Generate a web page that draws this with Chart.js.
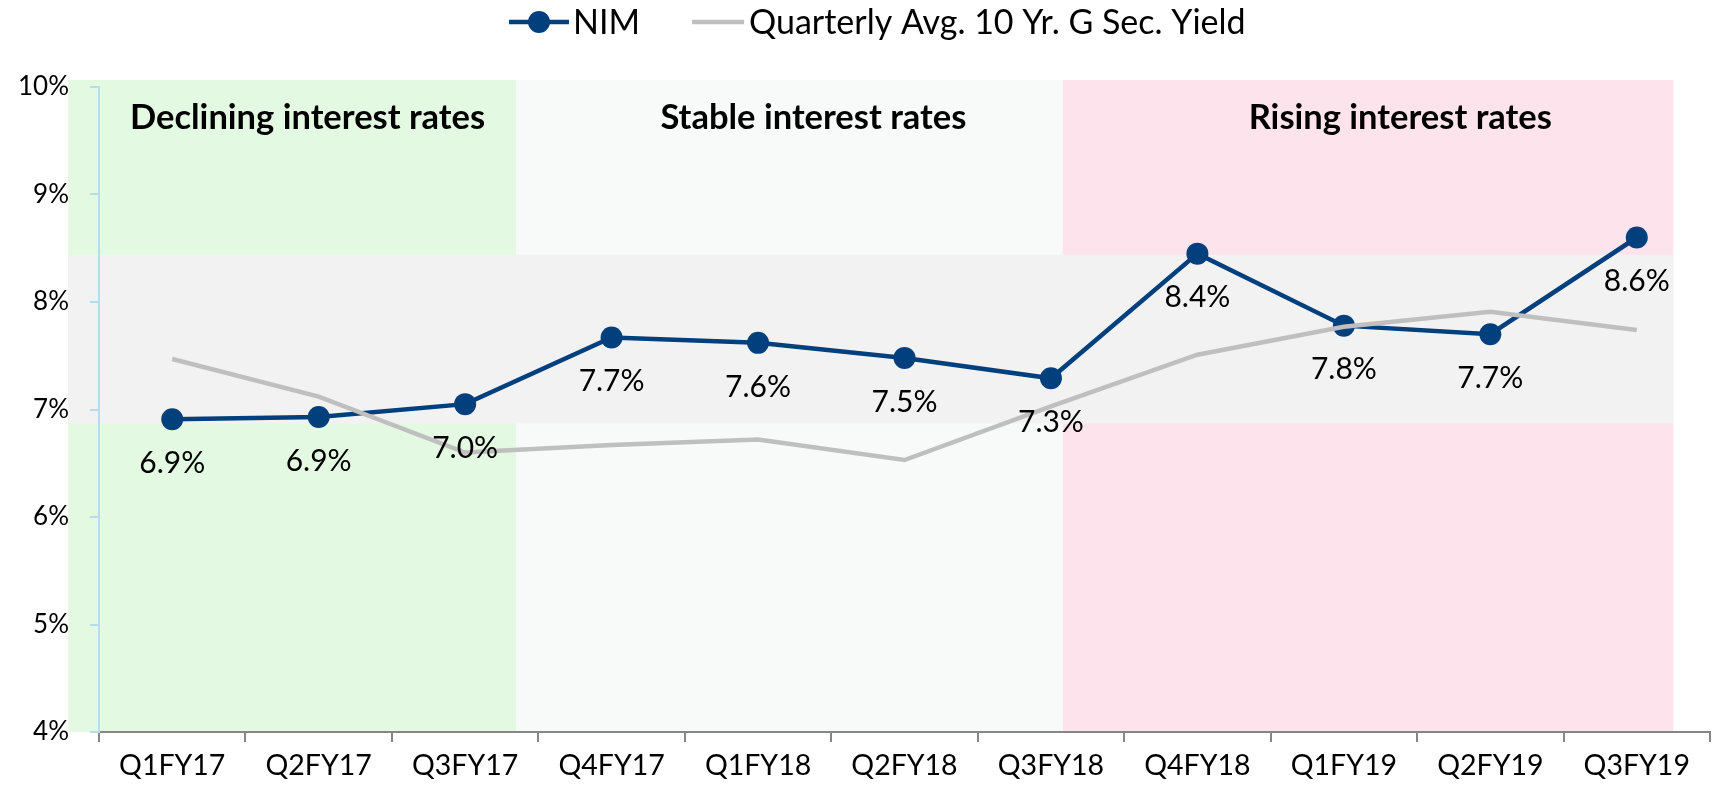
<!DOCTYPE html>
<html><head><meta charset="utf-8">
<script src="https://cdn.jsdelivr.net/npm/chart.js@4.4.1/dist/chart.umd.min.js"></script>
<style>html,body{margin:0;padding:0;background:#fff;}#wrap{width:1721px;height:789px;}</style>
</head><body><div id="wrap"><canvas id="c" width="1721" height="789"></canvas></div>
<script>
const categories = ['Q1FY17','Q2FY17','Q3FY17','Q4FY17','Q1FY18','Q2FY18','Q3FY18','Q4FY18','Q1FY19','Q2FY19','Q3FY19'];
const nimValues = [6.91,6.93,7.05,7.67,7.62,7.48,7.29,8.45,7.78,7.70,8.60];
const nimLabels = ['6.9%','6.9%','7.0%','7.7%','7.6%','7.5%','7.3%','8.4%','7.8%','7.7%','8.6%'];
const gsecValues = [7.47,7.12,6.60,6.67,6.72,6.53,7.03,7.51,7.77,7.91,7.74];
const yTicks = [4,5,6,7,8,9,10];
const seriesNames = ['NIM','Quarterly Avg. 10 Yr. G Sec. Yield'];
const phaseNames = ['Declining interest rates','Stable interest rates','Rising interest rates'];
// phase spans in category-index units (start, end) and title centre
const phaseSpans = [[-0.71,2.35],[2.35,6.08],[6.08,10.25]];
const phaseTitleAt = [0.924,4.378,8.385];
const rangeBand = [6.87,8.44];

const FONT = 'Lato, "Open Sans", sans-serif';
const NIM_COLOR = '#013f7d';
const GSEC_COLOR = '#bfbfbf';
const phaseColors = ['#e3f9e1','#f8f9f9','#fde4ec'];

function idxPx(xs, i){
  const p0 = xs.getPixelForValue(0), p1 = xs.getPixelForValue(1);
  return p0 + i*(p1-p0);
}

const bgPlugin = {
  id:'bg',
  beforeDraw(chart){
    const ctx = chart.ctx, xs = chart.scales.x, ys = chart.scales.y;
    const top = ys.getPixelForValue(10) - 7, bottom = ys.getPixelForValue(4);
    ctx.save();
    phaseSpans.forEach((s,k)=>{
      const a = idxPx(xs,s[0]), b = idxPx(xs,s[1]);
      ctx.fillStyle = phaseColors[k];
      ctx.fillRect(a, top, b-a, bottom-top);
    });
    const a = idxPx(xs,phaseSpans[0][0]), b = idxPx(xs,phaseSpans[2][1]);
    const y1 = ys.getPixelForValue(rangeBand[1]), y0 = ys.getPixelForValue(rangeBand[0]);
    ctx.fillStyle = '#f2f2f2';
    ctx.fillRect(a, y1, b-a, y0-y1);
    ctx.fillStyle = '#000';
    ctx.font = 'bold 34.5px ' + FONT;
    ctx.textAlign = 'center'; ctx.textBaseline = 'middle';
    phaseNames.forEach((t,k)=>{
      ctx.fillText(t, idxPx(xs,phaseTitleAt[k]), ys.getPixelForValue(9.715));
    });
    ctx.restore();
  },
  afterDatasetsDraw(chart){
    const ctx = chart.ctx;
    const meta = chart.getDatasetMeta(0);
    ctx.save();
    ctx.fillStyle = '#000';
    ctx.font = '30px ' + FONT;
    ctx.textAlign = 'center'; ctx.textBaseline = 'middle';
    meta.data.forEach((pt,i)=>{
      ctx.fillText(nimLabels[i], pt.x, pt.y + 44);
    });
    ctx.restore();
  },
  afterDraw(chart){
    const ctx = chart.ctx;
    const cy = 22;
    ctx.save();
    ctx.font = '34px ' + FONT;
    ctx.textBaseline = 'middle'; ctx.textAlign = 'left';
    const w0 = ctx.measureText(seriesNames[0]).width;
    let x = 509;
    ctx.strokeStyle = NIM_COLOR; ctx.lineWidth = 4.5;
    ctx.beginPath(); ctx.moveTo(x, cy); ctx.lineTo(x+60, cy); ctx.stroke();
    ctx.fillStyle = NIM_COLOR;
    ctx.beginPath(); ctx.arc(x+30, cy, 11, 0, Math.PI*2); ctx.fill();
    ctx.fillStyle = '#000';
    ctx.fillText(seriesNames[0], x+64, cy+1);
    x = x + 64 + w0 + 52;
    ctx.strokeStyle = GSEC_COLOR; ctx.lineWidth = 4.5;
    ctx.beginPath(); ctx.moveTo(x, cy); ctx.lineTo(x+52, cy); ctx.stroke();
    ctx.fillText(seriesNames[1], x+57, cy+1);
    ctx.restore();
  }
};

new Chart(document.getElementById('c'), {
  type:'line',
  data:{
    labels: categories,
    datasets:[
      {label:seriesNames[0], data:nimValues, borderColor:NIM_COLOR, backgroundColor:NIM_COLOR,
       borderWidth:4.5, pointRadius:11, pointHoverRadius:11, pointBackgroundColor:NIM_COLOR,
       pointBorderWidth:0, tension:0, order:1},
      {label:seriesNames[1], data:gsecValues, borderColor:GSEC_COLOR, backgroundColor:GSEC_COLOR,
       borderWidth:4.5, pointRadius:0, pointHoverRadius:0, tension:0, order:0}
    ]
  },
  options:{
    responsive:false, animation:false, events:[],
    layout:{padding:{top:87,right:4,left:0,bottom:0}},
    plugins:{legend:{display:false}, tooltip:{enabled:false}},
    scales:{
      x:{
        offset:true,
        grid:{offset:true, drawOnChartArea:false, drawTicks:true, tickLength:10, color:'#868686', lineWidth:2},
        border:{color:'#868686', width:2},
        ticks:{font:{family:FONT,size:28.5}, color:'#000', padding:7, maxRotation:0, autoSkip:false},
        afterFit(s){ s.height = 57; }
      },
      y:{
        min:4, max:10,
        afterBuildTicks(s){ s.ticks = yTicks.map(v=>({value:v})); },
        grid:{drawOnChartArea:false, tickLength:9, color:'#b7dde8', lineWidth:2},
        border:{color:'#b7dde8', width:2},
        ticks:{font:{family:FONT,size:26}, color:'#000', padding:21, callback:v=>v+'%'},
        afterFit(s){ s.width = 99; }
      }
    }
  },
  plugins:[bgPlugin]
});
</script>
</body></html>
